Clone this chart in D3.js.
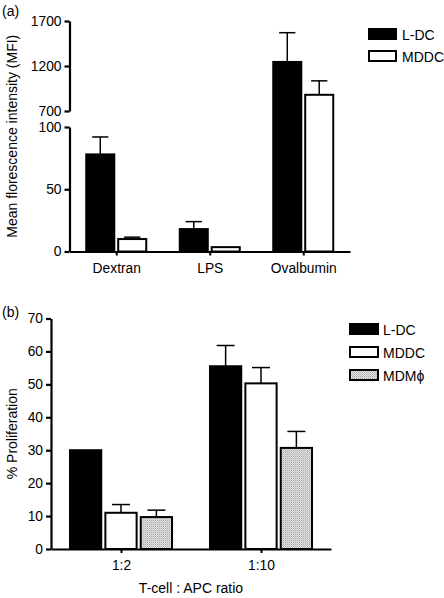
<!DOCTYPE html>
<html><head><meta charset="utf-8">
<script src="https://cdn.jsdelivr.net/npm/d3@7"></script>
<style>body{margin:0;background:#fff}svg{display:block}text{font-family:"Liberation Sans",Arial,Helvetica,sans-serif;fill:#000}</style>
</head><body><div id="chart"></div>
<script>
// Panel (a)
const catsA = ["Dextran", "LPS", "Ovalbumin"];
const seriesA = ["L-DC", "MDDC"];
const ldcA = [78, 18, 1245];
const ldcAErr = [14, 6, 325];
const mddcA = [10, 3.5, 880];
const mddcAErr = [1.5, 0, 155];
const ticksALow = [0, 50, 100];
const ticksAHigh = [700, 1200, 1700];

// Panel (b)
const catsB = ["1:2", "1:10"];
const seriesB = ["L-DC", "MDDC", "MDMϕ"];
const ldcB = [30, 55.5];
const ldcBErr = [0, 6.3];
const mddcB = [11, 50.3];
const mddcBErr = [2.5, 4.8];
const mdmB = [9.7, 30.7];
const mdmBErr = [2.1, 5];
const ticksB = [0, 10, 20, 30, 40, 50, 60, 70];

const W = 444, H = 598;
const svg = d3.select("#chart").append("svg").attr("width", W).attr("height", H);

const defs = svg.append("defs");
const pat = defs.append("pattern").attr("id", "dots").attr("patternUnits", "userSpaceOnUse")
  .attr("width", 2).attr("height", 2);
pat.append("rect").attr("width", 2).attr("height", 2).attr("fill", "#e4e4e4");
pat.append("rect").attr("width", 1).attr("height", 1).attr("fill", "#a8a8a8");
pat.append("rect").attr("x", 1).attr("y", 1).attr("width", 1).attr("height", 1).attr("fill", "#c4c4c4");

const fills = {"L-DC": "#000", "MDDC": "#fff", "MDMϕ": "url(#dots)"};
const FS = 13.8;
const fmt = d3.format("d");

// ---------- Panel (a) ----------
const xA = d3.scalePoint().domain(catsA).range([69.5, 350]).padding(0.5);
const x1A = d3.scaleBand().domain(seriesA).range([-31, 31]).paddingInner(0.06);
const yLow = d3.scaleLinear().domain([0, 100]).range([251.5, 127]);
const yHigh = d3.scaleLinear().domain([700, 1700]).range([111, 21]);
const yA = v => v <= 100 ? yLow(v) : yHigh(v);

const dataA = catsA.map((c, i) => ({cat: c, vals: [
  {s: "L-DC", v: ldcA[i], e: ldcAErr[i]},
  {s: "MDDC", v: mddcA[i], e: mddcAErr[i]}]}));

const gA = svg.append("g");
const grpA = gA.selectAll("g.grp").data(dataA).join("g").attr("transform", d => `translate(${xA(d.cat)},0)`);
grpA.selectAll("g.err").data(d => d.vals.filter(v => v.e > 0)).join("g").each(function(d) {
  const g = d3.select(this);
  const cx = x1A(d.s) + x1A.bandwidth() / 2;
  const cw = x1A.bandwidth() * 0.27;
  g.append("line").attr("x1", cx).attr("x2", cx).attr("y1", yA(d.v)).attr("y2", yA(d.v + d.e))
    .attr("stroke", "#000").attr("stroke-width", 1.5);
  g.append("line").attr("x1", cx - cw).attr("x2", cx + cw).attr("y1", yA(d.v + d.e)).attr("y2", yA(d.v + d.e))
    .attr("stroke", "#000").attr("stroke-width", 1.5);
});
grpA.selectAll("rect").data(d => d.vals).join("rect")
  .attr("x", d => x1A(d.s) + 1).attr("width", x1A.bandwidth() - 2)
  .attr("y", d => yA(d.v)).attr("height", d => yLow(0) - yA(d.v))
  .attr("fill", d => fills[d.s]).attr("stroke", "#000").attr("stroke-width", 2);

const axLow = d3.axisLeft(yLow).tickValues(ticksALow).tickFormat(fmt).tickSize(5).tickSizeOuter(0);
const axHigh = d3.axisLeft(yHigh).tickValues(ticksAHigh).tickFormat(fmt).tickSize(5).tickSizeOuter(0);
[axLow, axHigh].forEach(ax => {
  const g = gA.append("g").attr("transform", "translate(69.5,0)").call(ax);
  g.select(".domain").attr("stroke-width", 2.2);
  g.selectAll(".tick line").attr("stroke-width", 2.2);
  g.selectAll(".tick text").attr("font-size", FS).attr("font-family", "Liberation Sans, Arial, sans-serif").attr("x", -8);
});
const axXA = d3.axisBottom(xA).tickSize(4).tickSizeOuter(0);
const gxA = gA.append("g").attr("transform", `translate(0,${yLow(0)})`).call(axXA);
gxA.select(".domain").attr("stroke-width", 2.2);
gxA.selectAll(".tick line").attr("stroke-width", 2);
gxA.selectAll(".tick text").attr("font-size", FS).attr("font-family", "Liberation Sans, Arial, sans-serif").attr("dy", "1.05em");

gA.append("text").attr("transform", `translate(17,${(21 + 251.5) / 2}) rotate(-90)`)
  .attr("text-anchor", "middle").attr("font-size", 14).text("Mean florescence intensity (MFI)");
gA.append("text").attr("x", 2).attr("y", 16).attr("font-size", 14).text("(a)");

const legA = gA.selectAll("g.leg").data(seriesA).join("g").attr("transform", (d, i) => `translate(369,${29 + i * 22})`);
legA.append("rect").attr("width", 27).attr("height", 10).attr("fill", d => fills[d]).attr("stroke", "#000").attr("stroke-width", 2);
legA.append("text").attr("x", 33).attr("y", 10.5).attr("font-size", 14).text(d => d);

// ---------- Panel (b) ----------
const xB = d3.scalePoint().domain(catsB).range([51, 331]).padding(0.5);
const x1B = d3.scaleBand().domain(seriesB).range([-52, 52]).paddingInner(0.06);
const yB = d3.scaleLinear().domain([0, 70]).range([549, 318.5]);

const dataB = catsB.map((c, i) => ({cat: c, vals: [
  {s: "L-DC", v: ldcB[i], e: ldcBErr[i]},
  {s: "MDDC", v: mddcB[i], e: mddcBErr[i]},
  {s: "MDMϕ", v: mdmB[i], e: mdmBErr[i]}]}));

const gB = svg.append("g");
const grpB = gB.selectAll("g.grp").data(dataB).join("g").attr("transform", d => `translate(${xB(d.cat)},0)`);
grpB.selectAll("g.err").data(d => d.vals.filter(v => v.e > 0)).join("g").each(function(d) {
  const g = d3.select(this);
  const cx = x1B(d.s) + x1B.bandwidth() / 2;
  const cw = x1B.bandwidth() * 0.27;
  g.append("line").attr("x1", cx).attr("x2", cx).attr("y1", yB(d.v)).attr("y2", yB(d.v + d.e))
    .attr("stroke", "#000").attr("stroke-width", 1.5);
  g.append("line").attr("x1", cx - cw).attr("x2", cx + cw).attr("y1", yB(d.v + d.e)).attr("y2", yB(d.v + d.e))
    .attr("stroke", "#000").attr("stroke-width", 1.5);
});
grpB.selectAll("rect").data(d => d.vals).join("rect")
  .attr("x", d => x1B(d.s) + 1).attr("width", x1B.bandwidth() - 2)
  .attr("y", d => yB(d.v)).attr("height", d => yB(0) - yB(d.v))
  .attr("fill", d => fills[d.s]).attr("stroke", "#000").attr("stroke-width", 2);

const gyB = gB.append("g").attr("transform", "translate(51,0)")
  .call(d3.axisLeft(yB).tickValues(ticksB).tickFormat(fmt).tickSize(5).tickSizeOuter(0));
gyB.select(".domain").attr("stroke-width", 2.2);
gyB.selectAll(".tick line").attr("stroke-width", 2.2);
gyB.selectAll(".tick text").attr("font-size", FS).attr("font-family", "Liberation Sans, Arial, sans-serif").attr("x", -8);
const gxB = gB.append("g").attr("transform", `translate(0,${yB(0)})`)
  .call(d3.axisBottom(xB).tickSize(4).tickSizeOuter(0));
gxB.select(".domain").attr("stroke-width", 2.2);
gxB.selectAll(".tick line").attr("stroke-width", 2);
gxB.selectAll(".tick text").attr("font-size", FS).attr("font-family", "Liberation Sans, Arial, sans-serif").attr("dy", "1.05em");

gB.append("text").attr("transform", `translate(17,${(318.5 + 549) / 2}) rotate(-90)`)
  .attr("text-anchor", "middle").attr("font-size", 14).text("% Proliferation");
gB.append("text").attr("x", 191).attr("y", 593).attr("text-anchor", "middle").attr("font-size", 14).text("T-cell : APC ratio");
gB.append("text").attr("x", 2).attr("y", 317).attr("font-size", 14).text("(b)");

const legB = gB.selectAll("g.leg").data(seriesB).join("g").attr("transform", (d, i) => `translate(350,${324 + i * 23})`);
legB.append("rect").attr("width", 28).attr("height", 10).attr("fill", d => fills[d]).attr("stroke", "#000").attr("stroke-width", 2);
legB.append("text").attr("x", 33).attr("y", 10.5).attr("font-size", 14).text(d => d);
</script></body></html>
